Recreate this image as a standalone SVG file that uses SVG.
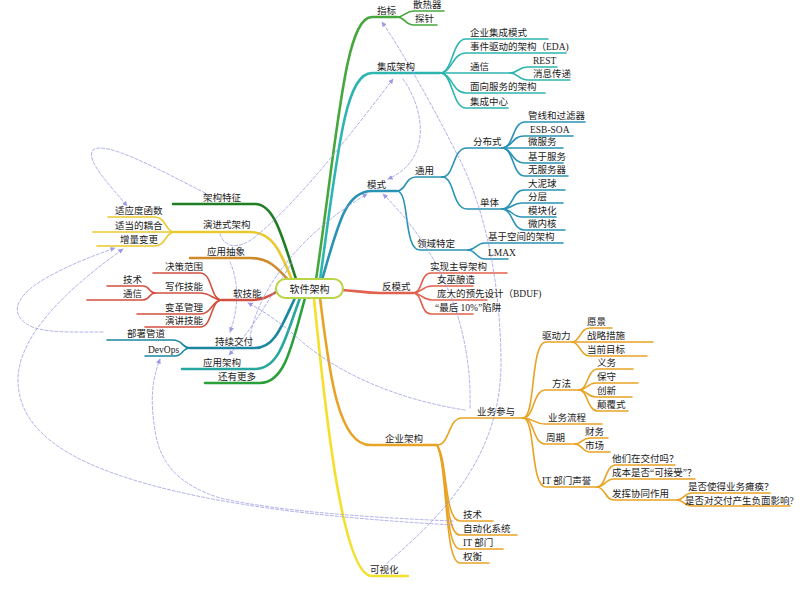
<svg xmlns="http://www.w3.org/2000/svg" width="800" height="598" viewBox="0 0 800 598">
<style>
.t{font-family:"Liberation Serif","Noto Sans CJK SC",serif;font-size:9.5px;fill:#1a1a1a}
.ct{font-family:"Liberation Serif","Noto Sans CJK SC",serif;font-size:10px;fill:#1a1a1a}
path{fill:none;stroke-linecap:round}
.m{stroke-width:2.6}
.c{stroke-width:1.6}
.d{stroke:#9a9ae6;stroke-width:0.8;stroke-dasharray:3 2;marker-end:url(#ar)}
.zb{stroke:#46a83c}.jc{stroke:#2db5b0}.ms{stroke:#2a93b5}.fm{stroke:#e2604e}
.qy{stroke:#e9a324}.ks{stroke:#f4e02c}.tz{stroke:#1f7d24}.yj{stroke:#e9c92d}
.cx{stroke:#cf8a2a}.rj{stroke:#d2503f}.cj{stroke:#1b86a1}.yy{stroke:#27a79f}.gd{stroke:#2aa03a}
</style>
<defs>
<marker id="ar" viewBox="0 0 6 6" refX="5.5" refY="3" markerWidth="5" markerHeight="5" markerUnits="userSpaceOnUse" orient="auto">
<path d="M0,0 L6,3 L0,6 z" style="fill:#9a9ae6;stroke:none"/>
</marker>
</defs>
<rect width="800" height="598" fill="#ffffff"/>
<g id="connectors">
<g id="branches">
<path class="m zb" d="M316,280 C338,130 345,17 372,17 L397,17"/>
<path class="c zb" d="M397,17 C405,17 405,11 414,11 L444,11"/>
<path class="c zb" d="M397,17 C405,17 405,25 414,25 L437,25"/>
<path class="m jc" d="M320,280 C338,150 345,73 372,73 L440,73"/>
<path class="c jc" d="M440,73 C453,73 452,39 466,39 L548,39"/>
<path class="c jc" d="M440,73 C452,73 452,53 466,53 L566,53"/>
<path class="c jc" d="M440,73 L510,73"/>
<path class="c jc" d="M440,73 C452,73 452,93 466,93 L545,93"/>
<path class="c jc" d="M440,73 C453,73 452,108 466,108 L508,108"/>
<path class="c jc" d="M510,73 C518,73 518,67 528,67 L557,67"/>
<path class="c jc" d="M510,73 C518,73 518,80 528,80 L570,80"/>
<path class="m ms" d="M322,280 C338,225 345,191 372,191 L397,191"/>
<path class="c ms" d="M397,191 C406,191 405,177 416,177 L442,177"/>
<path class="c ms" d="M397,191 C410,191 403,250 420,250 L468,250"/>
<path class="c ms" d="M442,177 C455,177 452,148 467,148 L502,148"/>
<path class="c ms" d="M442,177 C455,177 452,209 467,209 L502,209"/>
<path class="c ms" d="M502,148 C514,148 512,122 525,122 L585,122"/>
<path class="c ms" d="M502,148 C512,148 512,136 524,136 L573,136"/>
<path class="c ms" d="M502,148 L563,148"/>
<path class="c ms" d="M502,148 C512,148 512,163 524,163 L563,163"/>
<path class="c ms" d="M502,148 C514,148 512,176 525,176 L568,176"/>
<path class="c ms" d="M502,209 C513,209 512,190 524,190 L565,190"/>
<path class="c ms" d="M502,209 C512,209 512,203 522,203 L563,203"/>
<path class="c ms" d="M502,209 C512,209 512,217 522,217 L556,217"/>
<path class="c ms" d="M502,209 C513,209 512,230 524,230 L565,230"/>
<path class="c ms" d="M468,250 C476,250 476,243 485,243 L563,243"/>
<path class="c ms" d="M468,250 C476,250 476,259 485,259 L508,259"/>
<path class="m fm" d="M342,290 C360,291 365,293 380,293 L413,293"/>
<path class="c fm" d="M413,293 C423,293 420,273 431,273 L507,273"/>
<path class="c fm" d="M413,293 C422,293 422,286 432,286 L473,286"/>
<path class="c fm" d="M413,293 C422,293 422,300 432,300 L487,300"/>
<path class="c fm" d="M413,293 C423,293 420,314 431,314 L473,314"/>
<path class="m qy" d="M320,298 C328,360 336,445 370,445 L437,445"/>
<path class="c qy" d="M437,445 C450,445 448,418 462,418 L523,418"/>
<path class="c qy" d="M437,445 C448,460 444,521 460,521 L493,521"/>
<path class="c qy" d="M437,445 C448,462 444,535 460,535 L517,535"/>
<path class="c qy" d="M437,445 C448,465 444,549 460,549 L503,549"/>
<path class="c qy" d="M437,445 C448,468 444,563 460,563 L489,563"/>
<path class="c qy" d="M523,418 C536,418 530,342 546,342 L572,342"/>
<path class="c qy" d="M523,418 C535,418 532,390 546,390 L579,390"/>
<path class="c qy" d="M523,418 C533,418 534,424 545,424 L602,424"/>
<path class="c qy" d="M523,418 C535,418 532,444 546,444 L575,444"/>
<path class="c qy" d="M523,418 C536,418 530,487 546,487 L597,487"/>
<path class="c qy" d="M572,342 C580,342 580,328 590,328 L612,328"/>
<path class="c qy" d="M572,342 L653,342"/>
<path class="c qy" d="M572,342 C580,342 580,356 590,356 L647,356"/>
<path class="c qy" d="M579,390 C588,390 587,369 598,369 L633,369"/>
<path class="c qy" d="M579,390 C587,390 587,383 596,383 L638,383"/>
<path class="c qy" d="M579,390 C587,390 587,397 596,397 L632,397"/>
<path class="c qy" d="M579,390 C588,390 587,411 598,411 L628,411"/>
<path class="c qy" d="M575,444 C582,444 582,438 590,438 L608,438"/>
<path class="c qy" d="M575,444 C582,444 582,452 590,452 L610,452"/>
<path class="c qy" d="M597,487 C606,487 605,465 616,465 L675,465"/>
<path class="c qy" d="M597,487 C605,487 605,479 614,479 L695,479"/>
<path class="c qy" d="M597,487 C605,487 605,500 614,500 L677,500"/>
<path class="c qy" d="M677,500 C684,500 684,493 692,493 L770,493"/>
<path class="c qy" d="M677,500 C684,500 684,506 692,506 L790,506"/>
<path class="m ks" d="M314,298 C326,420 343,576 372,576 L408,576"/>
<path class="m tz" d="M296,279 C283,240 275,204 255,204 L173,204"/>
<path class="m yj" d="M292,280 C280,250 272,232 250,232 L175,232"/>
<path class="c yj" d="M175,232 C165,232 166,217 155,217 L108,217"/>
<path class="c yj" d="M175,232 L93,232"/>
<path class="c yj" d="M175,232 C165,232 166,246 155,246 L97,246"/>
<path class="m cx" d="M290,282 C276,266 268,258 250,258 L190,258"/>
<path class="m rj" d="M278,291 C268,297 262,300 250,300 L222,300"/>
<path class="c rj" d="M222,300 C210,300 213,273 200,273 L153,273"/>
<path class="c rj" d="M222,300 C212,300 212,293 200,293 L155,293"/>
<path class="c rj" d="M222,300 C212,300 212,314 200,314 L137,314"/>
<path class="c rj" d="M222,300 C210,300 213,327 200,327 L145,327"/>
<path class="c rj" d="M155,293 C149,293 150,286 143,286 L107,286"/>
<path class="c rj" d="M155,293 C149,293 150,300 143,300 L87,300"/>
<path class="m cj" d="M295,298 C282,325 275,348 255,348 L190,348"/>
<path class="c cj" d="M190,348 C182,348 183,340 173,340 L107,340"/>
<path class="c cj" d="M190,348 C182,348 183,356 175,356 L145,356"/>
<path class="m yy" d="M300,298 C286,335 280,369 255,369 L182,369"/>
<path class="m gd" d="M305,298 C292,345 285,383 260,383 L205,383"/>
</g>
<g id="relations">
<path class="d" d="M205,193 C160,170 105,140 93,150 C85,160 110,185 127,206"/>
<path class="d" d="M103,332 C70,332 45,333 30,326 C10,315 15,300 35,285 C60,268 95,255 115,248"/>
<path class="d" d="M453,525 C330,518 200,505 110,472 C50,450 18,420 18,380 C18,330 80,280 123,249"/>
<path class="d" d="M453,521 C380,518 280,512 220,498 C180,485 160,465 155,430 C150,400 152,380 160,359"/>
<path class="d" d="M387,563 C450,510 502,450 501,360 C500,280 485,210 460,160 C440,120 405,55 382,22"/>
<path class="d" d="M220,234 C225,248 238,250 255,237 C300,200 350,135 393,79"/>
<path class="d" d="M403,79 C425,110 432,160 388,179"/>
<path class="d" d="M470,408 C472,340 450,260 383,194"/>
<path class="d" d="M465,410 C400,400 340,375 300,340 C280,322 262,310 248,303"/>
<path class="d" d="M250,338 C255,300 290,240 367,194"/>
<path class="d" d="M230,262 C240,285 238,310 230,332"/>
<path class="d" d="M292,262 C275,290 252,330 229,355"/>
</g>
</g>
<g id="n-center"><rect x="276" y="279" width="67" height="19" rx="9.5" fill="#ffffff" stroke="#b9d445" stroke-width="2"/><text class="ct" x="309.5" y="292.5" text-anchor="middle">软件架构</text></g>
<g id="n-zhibiao"><text class="t" x="377" y="14">指标</text><text class="t" x="413" y="8">散热器</text><text class="t" x="415" y="22">探针</text></g>
<g id="n-jicheng"><text class="t" x="377" y="70">集成架构</text><text class="t" x="470" y="36">企业集成模式</text><text class="t" x="470" y="50">事件驱动的架构（EDA)</text><text class="t" x="470" y="70">通信</text><text class="t" x="533" y="64">REST</text><text class="t" x="533" y="77">消息传递</text><text class="t" x="470" y="90">面向服务的架构</text><text class="t" x="470" y="105">集成中心</text></g>
<g id="n-moshi"><text class="t" x="367" y="188">模式</text><text class="t" x="415" y="174">通用</text><text class="t" x="473" y="145">分布式</text><text class="t" x="528" y="119">管线和过滤器</text><text class="t" x="530" y="133">ESB-SOA</text><text class="t" x="528" y="145">微服务</text><text class="t" x="528" y="160">基于服务</text><text class="t" x="528" y="173">无服务器</text><text class="t" x="480" y="206">单体</text><text class="t" x="528" y="187">大泥球</text><text class="t" x="528" y="200">分层</text><text class="t" x="528" y="214">模块化</text><text class="t" x="528" y="227">微内核</text><text class="t" x="417" y="247">领域特定</text><text class="t" x="488" y="240">基于空间的架构</text><text class="t" x="488" y="256">LMAX</text></g>
<g id="n-fanmoshi"><text class="t" x="382" y="290">反模式</text><text class="t" x="430" y="270">实现主导架构</text><text class="t" x="437" y="283">女巫酿造</text><text class="t" x="437" y="297">庞大的预先设计（BDUF)</text><text class="t" x="435" y="311">“最后 10%”陷阱</text></g>
<g id="n-qiye"><text class="t" x="385" y="442">企业架构</text><text class="t" x="477" y="415">业务参与</text><text class="t" x="542" y="339">驱动力</text><text class="t" x="587" y="325">愿景</text><text class="t" x="587" y="339">战略措施</text><text class="t" x="587" y="353">当前目标</text><text class="t" x="552" y="387">方法</text><text class="t" x="597" y="366">义务</text><text class="t" x="597" y="380">保守</text><text class="t" x="597" y="394">创新</text><text class="t" x="597" y="408">颠覆式</text><text class="t" x="548" y="421">业务流程</text><text class="t" x="546" y="441">周期</text><text class="t" x="585" y="435">财务</text><text class="t" x="585" y="449">市场</text><text class="t" x="542" y="484">IT 部门声誉</text><text class="t" x="612" y="462">他们在交付吗？</text><text class="t" x="612" y="476">成本是否“可接受”？</text><text class="t" x="612" y="497">发挥协同作用</text><text class="t" x="688" y="490">是否使得业务瘫痪？</text><text class="t" x="685" y="504">是否对交付产生负面影响?</text><text class="t" x="463" y="518">技术</text><text class="t" x="463" y="532">自动化系统</text><text class="t" x="463" y="546">IT 部门</text><text class="t" x="463" y="560">权衡</text></g>
<g id="n-keshi"><text class="t" x="370" y="573">可视化</text></g>
<g id="n-tezheng"><text class="t" x="203" y="201">架构特征</text></g>
<g id="n-yanjin"><text class="t" x="203" y="228">演进式架构</text><text class="t" x="115" y="214">适应度函数</text><text class="t" x="115" y="229">适当的耦合</text><text class="t" x="120" y="243">增量变更</text></g>
<g id="n-chouxiang"><text class="t" x="207" y="255">应用抽象</text></g>
<g id="n-ruanjineng"><text class="t" x="233" y="297">软技能</text><text class="t" x="165" y="270">决策范围</text><text class="t" x="165" y="290">写作技能</text><text class="t" x="123" y="283">技术</text><text class="t" x="123" y="297">通信</text><text class="t" x="165" y="311">变革管理</text><text class="t" x="165" y="324">演讲技能</text></g>
<g id="n-chixu"><text class="t" x="215" y="345">持续交付</text><text class="t" x="127" y="337">部署管道</text><text class="t" x="148" y="353">DevOps</text></g>
<g id="n-yingyong"><text class="t" x="203" y="366">应用架构</text></g>
<g id="n-gengduo"><text class="t" x="218" y="380">还有更多</text></g>
</svg>
